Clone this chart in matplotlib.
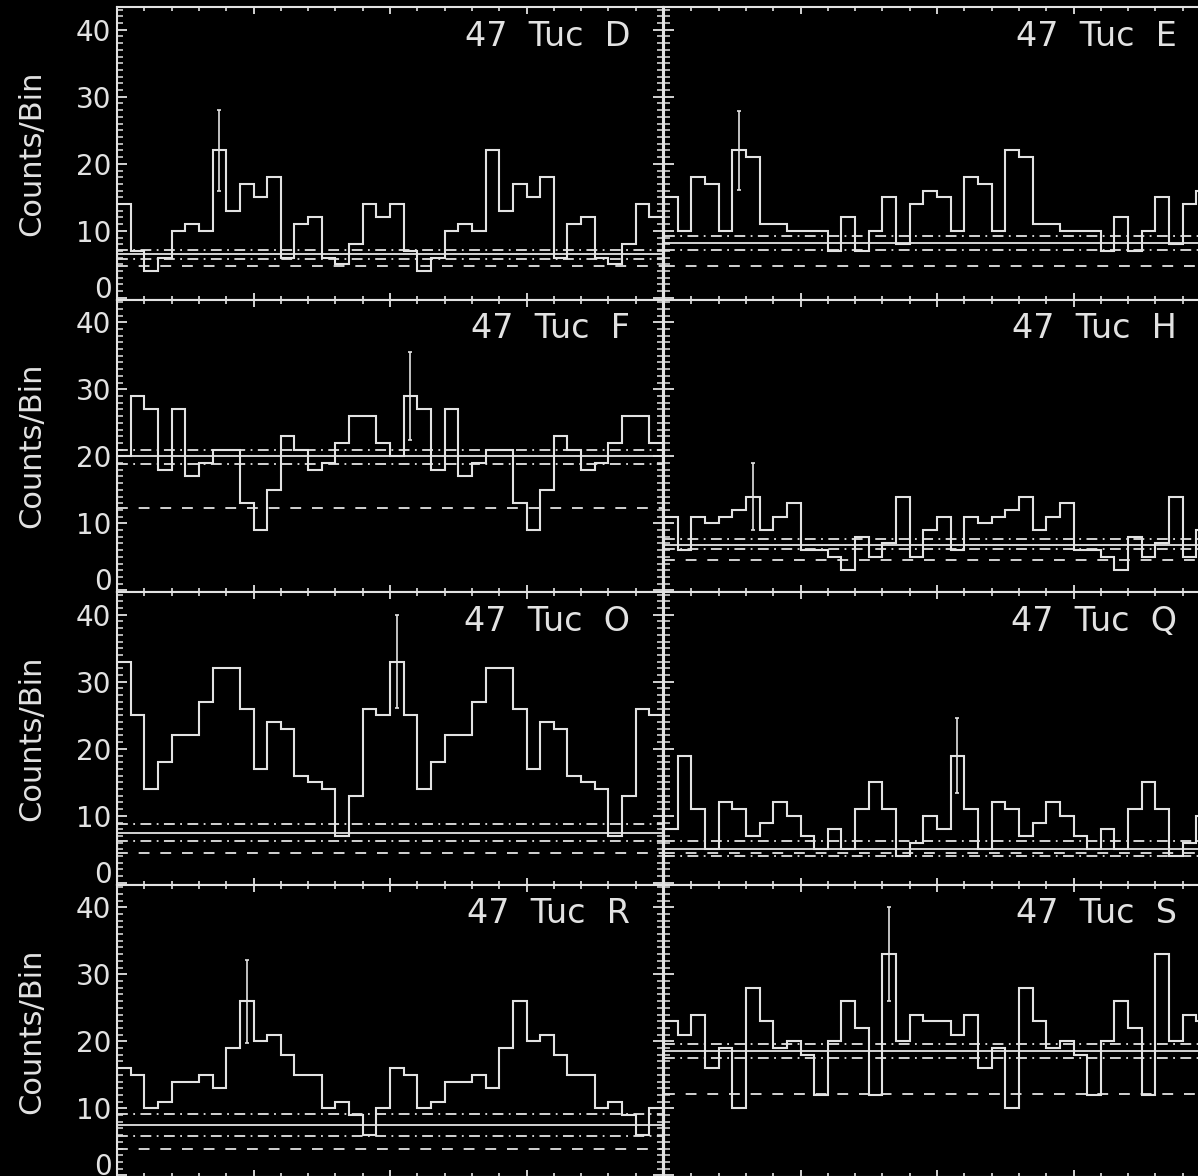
import numpy as np
import matplotlib.pyplot as plt
from matplotlib.ticker import MultipleLocator

# one 20-bin pulse cycle per source (shown twice, phase 0-2)
d_counts = [14, 7, 4, 6, 10, 11, 10, 22, 13, 17, 15, 18, 6, 11, 12, 6, 5, 8, 14, 12]
e_counts = [15, 10, 18, 17, 10, 22, 21, 11, 11, 10, 10, 10, 7, 12, 7, 10, 15, 8, 14, 16]
f_counts = [20, 29, 27, 18, 27, 17, 19, 21, 21, 13, 9, 15, 23, 21, 18, 19, 22, 26, 26, 22]
h_counts = [11, 6, 11, 10, 11, 12, 14, 9, 11, 13, 6, 6, 5, 3, 8, 5, 7, 14, 5, 9]
o_counts = [33, 25, 14, 18, 22, 22, 27, 32, 32, 26, 17, 24, 23, 16, 15, 14, 7, 13, 26, 25]
q_counts = [8, 19, 11, 5, 12, 11, 7, 9, 12, 10, 7, 5, 8, 5, 11, 15, 11, 4, 6, 10]
r_counts = [16, 15, 10, 11, 14, 14, 15, 13, 19, 26, 20, 21, 18, 15, 15, 10, 11, 9, 6, 10]
s_counts = [23, 21, 24, 16, 19, 10, 28, 23, 19, 20, 18, 12, 20, 26, 22, 12, 33, 20, 24, 23]

names = ['D', 'E', 'F', 'H', 'O', 'Q', 'R', 'S']
counts = [d_counts, e_counts, f_counts, h_counts, o_counts, q_counts, r_counts, s_counts]

# background level (solid), +/- levels (dash-dot), dashed level
solid_lvl = [6.5, 8.2, 20.0, 6.8, 7.5, 5.1, 7.5, 18.5]
dd_hi = [7.2, 9.2, 21.0, 7.7, 8.8, 6.2, 9.1, 19.6]
dd_lo = [5.8, 7.2, 18.9, 6.2, 6.2, 4.0, 5.9, 17.5]
dashed_lvl = [4.7, 4.7, 12.3, 4.6, 4.5, 4.5, 3.9, 12.2]

# sample error bar: bin index (of 40) and half-length
err_bin = [7, 5, 21, 6, 20, 21, 9, 16]
err_size = [6.0, 5.9, 6.5, 5.0, 6.9, 5.6, 6.2, 7.0]

yticks = [0, 10, 20, 30, 40]

fg = '#e2e2e2'
W, H = 1198, 1176
row_h = 292.5

fig = plt.figure(figsize=(W / 100, H / 100), dpi=100, facecolor='black')

edges = np.arange(41) * 0.05
centers = edges[:-1] + 0.025

for i, name in enumerate(names):
    row, col = divmod(i, 2)
    left_px = 117 if col == 0 else 664
    top_px = 7 + row_h * row
    ax = fig.add_axes([left_px / W, 1 - (top_px + row_h) / H, 546 / W, row_h / H])
    ax.set_facecolor('black')

    vals = np.tile(counts[i], 2)
    ax.stairs(vals, edges, color=fg, lw=1.5)

    k = err_bin[i]
    ax.errorbar(centers[k], vals[k], yerr=err_size[i], fmt='none',
                ecolor=fg, elinewidth=1.2, capsize=1.6, capthick=1.2)

    ax.axhline(solid_lvl[i], color=fg, lw=1.3)
    ax.axhline(dd_hi[i], color=fg, lw=1.3, dashes=(6, 3, 1, 3))
    ax.axhline(dd_lo[i], color=fg, lw=1.3, dashes=(6, 3, 1, 3))
    ax.axhline(dashed_lvl[i], color=fg, lw=1.3, dashes=(6, 6))

    ax.set_xlim(0, 2)
    ax.set_ylim(-0.25, 43.4)
    ax.xaxis.set_major_locator(MultipleLocator(0.5))
    ax.xaxis.set_minor_locator(MultipleLocator(0.1))
    ax.set_yticks(yticks)
    ax.yaxis.set_minor_locator(MultipleLocator(1))

    ax.tick_params(which='both', direction='in', top=True, right=True,
                   colors=fg, labelbottom=False, labelleft=(col == 0))
    ax.tick_params(axis='x', which='major', length=5, width=1.3)
    ax.tick_params(axis='x', which='minor', length=3, width=1.2)
    ax.tick_params(axis='y', which='major', length=7.5, width=1.3,
                   labelsize=20, pad=4)
    ax.tick_params(axis='y', which='minor', length=4, width=1.1)
    # the "0" label sits just above the bottom edge, as in the original
    ax.yaxis.get_major_ticks()[0].label1.set_verticalalignment('baseline')
    for sp in ax.spines.values():
        sp.set_color(fg)
        sp.set_linewidth(1.5)

    ax.text(0.94, 0.90, f'47  Tuc  {name}', transform=ax.transAxes,
            ha='right', va='center', color=fg, fontsize=24)

    if col == 0:
        ax.set_ylabel('Counts/Bin', color=fg, fontsize=22)
        ax.yaxis.set_label_coords(-0.13, 0.5)

fig.savefig('out.png', dpi=100, facecolor='black')
